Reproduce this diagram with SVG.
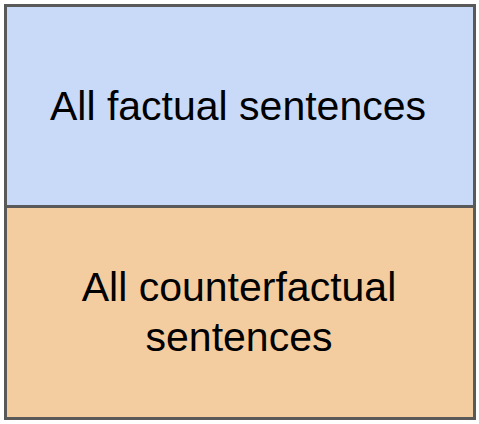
<svg xmlns="http://www.w3.org/2000/svg" width="479" height="424" viewBox="0 0 479 424">
<style>
.box{stroke:#595959;stroke-width:3}
.t{font-family:"Liberation Sans",Arial,sans-serif;font-size:41px;fill:#000;text-anchor:middle}
</style>
<rect width="479" height="424" fill="#ffffff"/>
<g id="factual">
<rect class="box" x="5.5" y="5.5" width="469" height="201" fill="#c9daf8"/>
<text class="t" x="238" y="120">All factual sentences</text>
</g>
<g id="counterfactual">
<rect class="box" x="5.5" y="206.5" width="469" height="212" fill="#f3cd9f"/>
<text class="t" x="239" y="301">All counterfactual</text>
<text class="t" x="239" y="351">sentences</text>
</g>
<g id="connectors"></g>
</svg>
